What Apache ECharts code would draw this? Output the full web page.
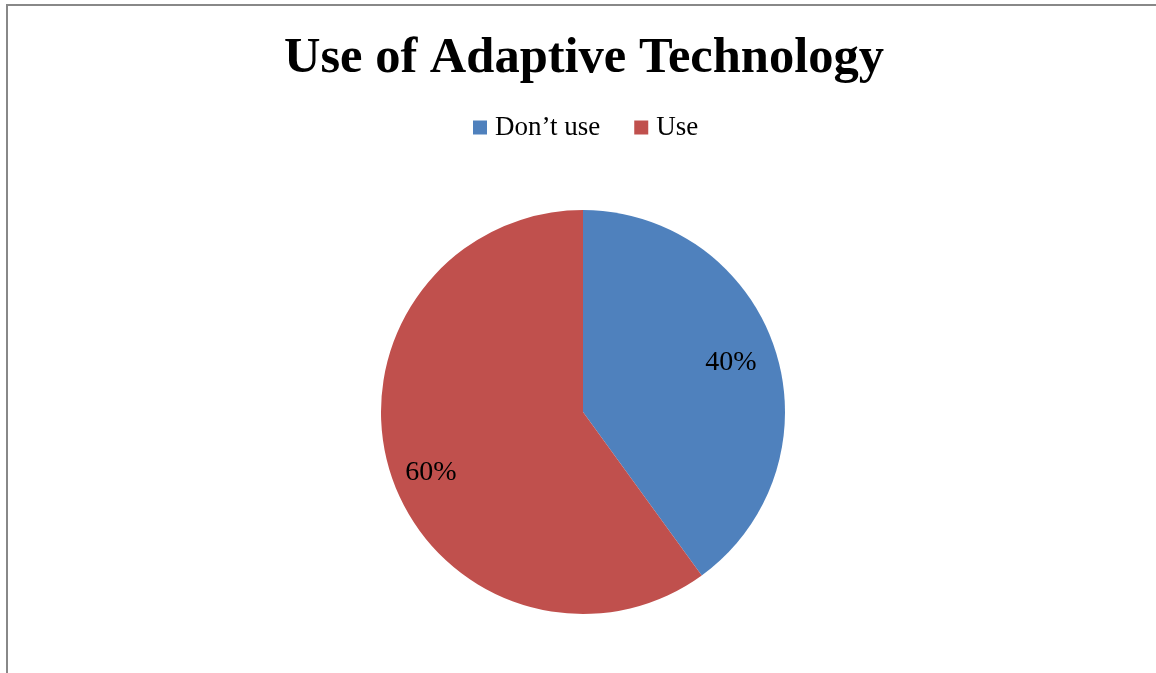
<!DOCTYPE html>
<html><head><meta charset="utf-8">
<script src="https://cdn.jsdelivr.net/npm/echarts@6/dist/echarts.min.js"></script>
<style>
html,body{margin:0;padding:0;background:#fff;}
#frame{position:absolute;left:6px;top:4px;width:1200px;height:700px;border-left:2px solid #888;border-top:2px solid #888;}
#c{position:absolute;left:0;top:0;width:1156px;height:673px;}
</style></head>
<body>
<div id="frame"></div>
<div id="c"></div>
<script>
var categories = ["Don\u2019t use", "Use"];
var values = [40, 60];
var colors = ["#4F81BD", "#C0504D"];
var titleText = "Use of Adaptive Technology";

var FONT = "'Liberation Serif', 'DejaVu Serif', serif";
var labelOffsets = [[-7, 1], [3, 10]];
var chart = echarts.init(document.getElementById('c'), null, {renderer: 'canvas'});
var data = categories.map(function (n, i) { return {name: n, value: values[i], itemStyle: {color: colors[i]}}; });
chart.setOption({
  animation: false,
  title: {text: titleText, left: 279, top: 28,
    textStyle: {fontFamily: FONT, fontWeight: 'bold', fontSize: 50.5, color: '#000'}},
  legend: {data: categories, top: 109, left: 468, icon: 'rect', itemWidth: 14, itemHeight: 14, itemGap: 34,
    textStyle: {fontFamily: FONT, fontSize: 27, color: '#000', padding: [0, 0, 0, 3]}},
  series: [{
    type: 'pie', center: [583, 412], radius: [0, 202], startAngle: 90, clockwise: true,
    data: data, label: {show: false}, labelLine: {show: false}, silent: true
  }, {
    type: 'pie', center: [583, 412], radius: [118, 202], startAngle: 90, clockwise: true, silent: true,
    data: categories.map(function (n, i) { return {name: n, value: values[i], itemStyle: {color: 'rgba(0,0,0,0)'},
      label: {offset: labelOffsets[i]}}; }),
    label: {show: true, position: 'inside', formatter: function (p) { return Math.round(p.percent) + '%'; },
      fontFamily: FONT, fontSize: 28, color: '#000'},
    labelLine: {show: false}
  }]
});
</script>
</body></html>
